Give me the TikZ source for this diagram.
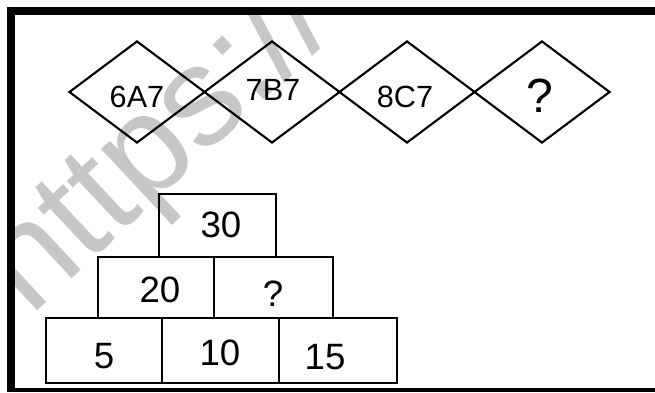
\documentclass[tikz,border=0pt]{standalone}
\usepackage{fontspec}
\setmainfont{Liberation Sans}
\usetikzlibrary{shapes.geometric}
\begin{document}
\begin{tikzpicture}[x=0.75pt,y=-0.75pt,
  dmd/.style={draw=black,line width=1.6pt,shape=diamond,inner sep=0pt,minimum width=102pt,minimum height=76.5pt},
  cell/.style={draw=black,line width=1.4pt,rectangle,inner sep=0pt},
  dtxt/.style={font=\fontsize{23pt}{23pt}\selectfont,inner sep=0pt},
  ptxt/.style={font=\fontsize{27.5pt}{27.5pt}\selectfont,inner sep=0pt},
  bar/.style={fill=black,draw=none}]
\useasboundingbox (0,0) rectangle (655,392);
\fill[white] (0,0) rectangle (655,392);
% watermark
\begin{scope}
\clip (15,15) rectangle (655,388);
\node[font=\fontsize{106pt}{106pt}\selectfont,text=black!22,rotate=43,anchor=base west,inner sep=0pt] (wm) at (30,318) {https://www};
\end{scope}
% frame
\fill[bar] (7,7) rectangle (655,15);
\fill[bar] (7,7) rectangle (15,392);
\fill[bar] (7,388) rectangle (655,392);
% diamonds
\node[dmd] (d1) at (137,92) {};
\node[dmd] (d2) at (272,92) {};
\node[dmd] (d3) at (407,92) {};
\node[dmd] (d4) at (542,92) {};
\node[dtxt] (t1) at (137,97) {6A7};
\node[dtxt] (t2) at (273,90) {7B7};
\node[dtxt] (t3) at (405,97) {8C7};
\node[font=\fontsize{36pt}{36pt}\selectfont,inner sep=0pt] (t4) at (540,96) {?};
% pyramid
\node[cell,minimum width=87.75pt,minimum height=47.25pt] (b30) at (217.5,225.5) {};
\node[cell,minimum width=87pt,minimum height=45.75pt] (b20) at (156,287.5) {};
\node[cell,minimum width=89.25pt,minimum height=45.75pt] (bq) at (273.5,287.5) {};
\node[cell,minimum width=87pt,minimum height=48.75pt] (b5) at (104,350.5) {};
\node[cell,minimum width=87.75pt,minimum height=48.75pt] (b10) at (220.5,350.5) {};
\node[cell,minimum width=88.5pt,minimum height=48.75pt] (b15) at (338,350.5) {};
\node[ptxt] (l30) at (221,225) {30};
\node[ptxt] (l20) at (160,290) {20};
\node[ptxt] (lq) at (273,294) {?};
\node[ptxt] (l5) at (104,356) {5};
\node[ptxt] (l10) at (220,353) {10};
\node[ptxt] (l15) at (325,357) {15};
\end{tikzpicture}
\end{document}
